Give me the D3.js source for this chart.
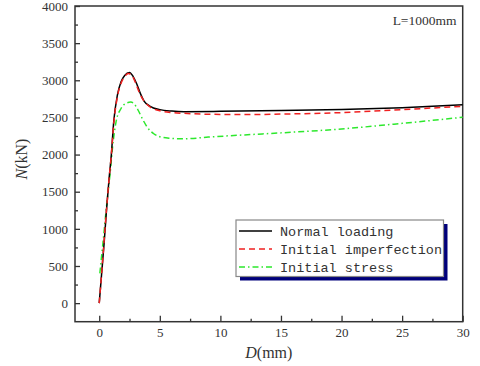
<!DOCTYPE html>
<html><head><meta charset="utf-8">
<script src="https://cdn.jsdelivr.net/npm/d3@7"></script>
<style>body{margin:0;background:#fff}svg{display:block}</style>
</head><body>
<svg id="c" width="480" height="366"></svg>
<script>
const seriesNames = ["Normal loading", "Initial imperfection", "Initial stress"];
const normalD = [0,0.2,0.4,0.6,0.8,1.0,1.2,1.5,1.8,2.1,2.5,2.8,3.1,3.4,3.7,4.2,5,6,7,10,15,20,25,30];
const normalN = [0,400,800,1250,1650,2000,2450,2800,2980,3065,3105,3050,2950,2820,2720,2650,2605,2585,2578,2582,2592,2605,2630,2670];
const imperfD = [0,0.2,0.5,0.8,1.0,1.2,1.5,1.8,2.1,2.4,2.7,3.0,3.3,3.7,4.2,5,6,7,10,12,15,20,25,30];
const imperfN = [0,400,1050,1650,2000,2420,2780,2960,3050,3090,3065,2965,2840,2720,2640,2590,2565,2555,2540,2538,2545,2565,2605,2650];
const stressD = [0.05,0.3,0.6,0.9,1.1,1.4,1.8,2.2,2.6,2.9,3.2,3.6,4.0,4.5,5.0,5.8,7,9,12,15,20,25,30];
const stressN = [400,800,1300,1750,2100,2450,2620,2690,2706,2680,2600,2470,2360,2280,2240,2220,2212,2235,2265,2292,2345,2420,2502];
const xTicks = [0,5,10,15,20,25,30];
const yTicks = [0,500,1000,1500,2000,2500,3000,3500,4000];
const annotation = "L=1000mm";

const svg = d3.select("#c");
const L = 75, R = 462.7, T = 6, B = 321.7;
const x = d3.scaleLinear().domain([-2,30]).range([L,R]);
const y = d3.scaleLinear().domain([-250,4000]).range([B,T]);
const axisColor = "#333";
const serif = "'Liberation Serif', 'Times New Roman', serif";

svg.append("rect").attr("x",L).attr("y",T).attr("width",R-L).attr("height",B-T)
  .attr("fill","none").attr("stroke",axisColor).attr("stroke-width",1.5);

const xMinor = d3.range(2.5,30,5);
const yMinor = d3.range(250,4000,500);
const gx = svg.append("g").attr("transform",`translate(0,${B})`);
gx.call(d3.axisBottom(x).tickValues(xTicks).tickSize(-6).tickPadding(6).tickFormat(d3.format("d")));
gx.append("g").call(d3.axisBottom(x).tickValues(xMinor).tickSize(-3).tickFormat(""));
const gy = svg.append("g").attr("transform",`translate(${L},0)`);
gy.call(d3.axisLeft(y).tickValues(yTicks).tickSize(-5).tickPadding(7).tickFormat(d3.format("d")));
gy.append("g").call(d3.axisLeft(y).tickValues(yMinor).tickSize(-3).tickFormat(""));
svg.selectAll(".domain").remove();
svg.selectAll("g").attr("font-family",null).attr("font-size",null);
svg.selectAll(".tick line").attr("stroke",axisColor).attr("stroke-width",1.3);
svg.selectAll(".tick text").style("font-family",serif).style("font-size","13px").attr("fill","#333");

const yl = svg.append("text").attr("transform","translate(27,159) rotate(-90)")
  .attr("text-anchor","middle").style("font-family",serif).style("font-size","16px").attr("fill","#333");
yl.append("tspan").attr("font-style","italic").text("N");
yl.append("tspan").text("(kN)");
const xl = svg.append("text").attr("x",(L+R)/2).attr("y",358)
  .attr("text-anchor","middle").style("font-family",serif).style("font-size","16px").attr("fill","#333");
xl.append("tspan").attr("font-style","italic").text("D");
xl.append("tspan").text("(mm)");

svg.append("text").attr("x",456.5).attr("y",25).attr("text-anchor","end")
  .style("font-family",serif).style("font-size","13.5px").attr("fill","#333").text(annotation);

const line = d3.line().x(d=>x(d[0])).y(d=>y(d[1])).curve(d3.curveMonotoneX);
const series = [
  {pts: d3.zip(stressD,stressN), color:"#2de82d", dash:"6,3,1.5,3"},
  {pts: d3.zip(normalD,normalN), color:"#000", dash:null},
  {pts: d3.zip(imperfD,imperfN), color:"#f02020", dash:"6,4"}
];
const styles = [series[1],series[2],series[0]];
series.forEach(s=>{
  svg.append("path").attr("d",line(s.pts)).attr("fill","none").attr("stroke",s.color)
    .attr("stroke-width",1.5).attr("stroke-dasharray",s.dash);
});

const lx=236, ly=220, lw=207.5, lh=56.5;
svg.append("rect").attr("x",lx+4).attr("y",ly+4).attr("width",lw).attr("height",lh).attr("fill","#00007a");
svg.append("rect").attr("x",lx).attr("y",ly).attr("width",lw).attr("height",lh).attr("fill","#fff")
  .attr("stroke","#888").attr("stroke-width",1.2);
seriesNames.forEach((n,i)=>{
  const cy = 231 + i*18;
  svg.append("line").attr("x1",239).attr("x2",272).attr("y1",cy).attr("y2",cy)
    .attr("stroke",styles[i].color).attr("stroke-width",1.5).attr("stroke-dasharray",styles[i].dash);
  svg.append("text").attr("x",280).attr("y",cy+4.7).style("font-family","'Liberation Mono', monospace")
    .style("font-size","13.5px").attr("fill","#333").text(n);
});
</script>
</body></html>
